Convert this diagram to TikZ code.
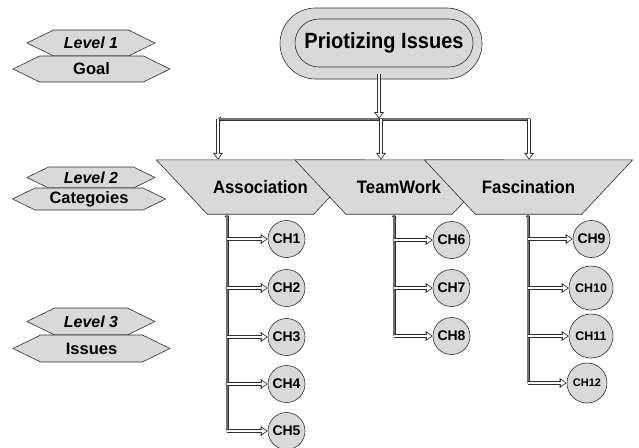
\documentclass[tikz,border=0pt]{standalone}
\usepackage{fontspec}
\setmainfont{Liberation Sans}
\usetikzlibrary{arrows.meta,shapes.symbols,shapes.misc,calc,backgrounds}
\definecolor{boxgray}{RGB}{217,217,217}
\definecolor{edge}{RGB}{45,45,45}
\newcommand{\fsz}[1]{\fontsize{#1}{#1}\selectfont}
\newcommand{\narrow}[2]{\scalebox{#1}[1]{#2}}

\begin{document}
\begin{tikzpicture}[x=1pt,y=-1pt,
  tag/.style={signal, signal to=east and west, signal pointer angle=52,
    draw=edge, fill=boxgray, line width=0.6pt, inner sep=0pt,
    minimum height=26pt, font=\bfseries\fsz{16.5}},
  leveltag/.style={tag, minimum width=128pt, font=\bfseries\itshape\fsz{16}},
  nametag/.style={tag, minimum width=157pt},
  goalouter/.style={rounded rectangle, draw=edge, fill=boxgray, line width=0.6pt,
    minimum width=202pt, minimum height=71pt, inner sep=0pt},
  goalinner/.style={rounded rectangle, draw=edge, fill=boxgray, line width=0.6pt,
    minimum width=178pt, minimum height=48pt, inner sep=0pt, font=\bfseries\fsz{22}},
  catbox/.style={minimum width=208pt, minimum height=54pt, inner sep=0pt,
    font=\bfseries\fsz{18}},
  catshape/.style={draw=edge, fill=boxgray, line width=0.6pt},
  chnode/.style={circle, draw=edge, fill=boxgray, line width=0.6pt, inner sep=0pt,
    minimum size=37pt, font=\bfseries\fsz{14}},
  chwide/.style={chnode, minimum size=44pt, font=\bfseries\fsz{12.5}},
  % hollow arrow: dark outline underneath, white core on top
  pipe/.style={
    preaction={draw=edge, line width=3.4pt, shorten >=0pt,
      -{Triangle[length=7pt, width=9.5pt]}},
    draw=white, line width=1.8pt, shorten >=1.3pt,
    -{Triangle[length=4.6pt, width=6pt]}},
  % plain double rail with a grey core
  trunk/.style={
    preaction={draw=edge, line width=3pt,
      {Triangle[length=3pt, width=5pt]}-},
    draw=black!55, line width=1.1pt}
]
\useasboundingbox (0,0) rectangle (639,447);

% level legend on the left
\node[leveltag] (lv1) at (91,43) {Level 1};
\node[nametag] (goaltag) at (91.5,69) {Goal};
\node[leveltag, minimum height=21pt] (lv2) at (91,177.5) {Level 2};
\node[nametag, minimum height=22pt, minimum width=153pt] (cattag) at (89,199) {Categoies};
\node[leveltag, minimum height=27pt] (lv3) at (91,321.5) {Level 3};
\node[nametag, minimum height=27pt] (isstag) at (91.5,348.5) {Issues};

% goal
\node[goalouter] (goalframe) at (381,43.5) {};
\node[goalinner] (goal) at (384,43) {\narrow{0.91}{Priotizing Issues}};

% categories
\node[catbox] (assoc) at (260.5,187) {\narrow{0.93}{Association}};
\node[catbox] (team) at (399,187) {\narrow{0.93}{TeamWork}};
\node[catbox] (fasc) at (528.5,187) {\narrow{0.93}{Fascination}};
\begin{scope}[on background layer]
  \foreach \c in {assoc,team,fasc}
    \draw[catshape] (\c.north west) -- (\c.north east)
      -- ([xshift=-51pt]\c.south east) -- ([xshift=51pt]\c.south west) -- cycle;
\end{scope}

% issues
\node[chnode] (ch1) at (286.5,239) {CH1};
\node[chnode] (ch2) at (286.5,288) {CH2};
\node[chnode] (ch3) at (286.5,337) {CH3};
\node[chnode] (ch4) at (286.5,384) {CH4};
\node[chnode] (ch5) at (286.5,431) {CH5};
\node[chnode] (ch6) at (451.5,240) {CH6};
\node[chnode] (ch7) at (451.5,288) {CH7};
\node[chnode] (ch8) at (451.5,336) {CH8};
\node[chnode] (ch9) at (591.5,239) {CH9};
\node[chwide] (ch10) at (591,288) {CH10};
\node[chwide] (ch11) at (591,336) {CH11};
\node[chnode, minimum size=40pt, font=\bfseries\fsz{11}] (ch12) at (587,383) {CH12};

% goal to categories
\coordinate (drop) at (379,74);
\coordinate (barA) at (218,119);
\coordinate (barT) at (381,119);
\coordinate (barF) at (530,119);
\draw[trunk] (barA) -- (barF);
\draw[pipe] (drop) -- (drop |- barA);
\draw[pipe] (barA) -- (barA |- assoc.north);
\draw[pipe] (barT) -- (barT |- team.north);
\draw[pipe] ([xshift=-1pt]barF) -- ([xshift=-1pt]barF |- fasc.north);

% categories to issues
\coordinate (stemA) at ($(assoc.south)+(-33.5,0)$);
\coordinate (stemT) at ($(team.south)+(-5,0)$);
\coordinate (stemF) at ($(fasc.south)+(-0.5,0)$);
\draw[trunk] (stemA) -- (stemA |- ch5);
\draw[trunk] (stemT) -- (stemT |- ch8);
\draw[trunk] (stemF) -- (stemF |- ch12);
\foreach \c in {ch1,ch2,ch3,ch4,ch5}
  \draw[pipe] (stemA |- \c) -- (\c.west);
\foreach \c in {ch6,ch7,ch8}
  \draw[pipe] (stemT |- \c) -- (\c.west);
\foreach \c in {ch9,ch10,ch11,ch12}
  \draw[pipe] (stemF |- \c) -- (\c.west);
\end{tikzpicture}
\end{document}
